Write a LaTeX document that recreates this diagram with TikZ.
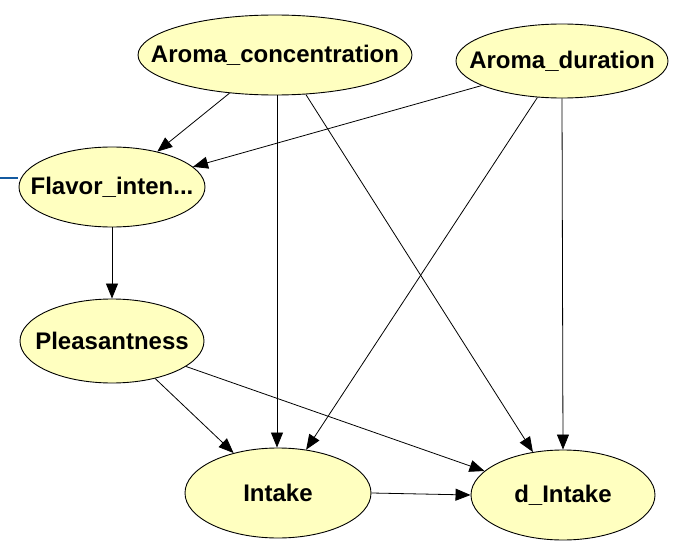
\documentclass[tikz,border=0pt]{standalone}
\usepackage{fontspec}
\setmainfont{Liberation Sans}
\usetikzlibrary{arrows.meta,shapes.geometric}
\definecolor{nodefill}{RGB}{255,255,192}
\definecolor{edgeblue}{RGB}{20,90,160}
\begin{document}
\begin{tikzpicture}[x=1pt,y=-1pt,
  var/.style={ellipse, draw=black, fill=nodefill, line width=0.9pt, inner sep=0pt},
  vartext/.style={inner sep=0pt, font=\fontsize{24}{28}\selectfont\bfseries},
  link/.style={draw=black, line width=0.8pt, -{Triangle[length=15pt,width=12pt]}}]
\useasboundingbox (0,0) rectangle (673,543);
% variables: outline first, then the name on top
\node[var, minimum width=274pt, minimum height=80pt] (ac) at (275,55) {};
\node[var, minimum width=212pt, minimum height=74pt] (ad) at (562,61) {};
\node[var, minimum width=186pt, minimum height=80pt] (fl) at (112,187) {};
\node[var, minimum width=184pt, minimum height=84pt] (pl) at (112,341) {};
\node[var, minimum width=186pt, minimum height=90pt] (in) at (278,493) {};
\node[var, minimum width=184pt, minimum height=90pt] (di) at (563,495) {};
\node[vartext] (ac-t) at (ac) {Aroma\_concentration};
\node[vartext] (ad-t) at (ad) {Aroma\_duration};
\node[vartext] (fl-t) at (fl) {Flavor\_inten...};
\node[vartext] (pl-t) at (pl) {Pleasantness};
\node[vartext] (in-t) at (in) {Intake};
\node[vartext] (di-t) at (di) {d\_Intake};
% dependencies
\draw[link] (ac.220) -- (fl.38);
\draw[link] ([xshift=2pt]ac.south) -- ([xshift=-1pt]in.north);
\draw[link] (ac.308) -- (di.125);
\draw[link] (ad.197) -- (fl.14);
\draw[link] (ad.236) -- (in.57);
\draw[link] (ad.south) -- (di.north);
\draw[link] (fl.south) -- (pl.north);
\draw[link] (pl.319) -- (in.138);
\draw[link] (pl.341) -- (di.163);
\draw[link] (in.east) -- (di.west);
% fragment at the left edge
\coordinate (b0) at (0,178);
\coordinate (b1) at (18,178);
\draw[edgeblue, line width=1.2pt] (b0) -- (b1);
\end{tikzpicture}
\end{document}
